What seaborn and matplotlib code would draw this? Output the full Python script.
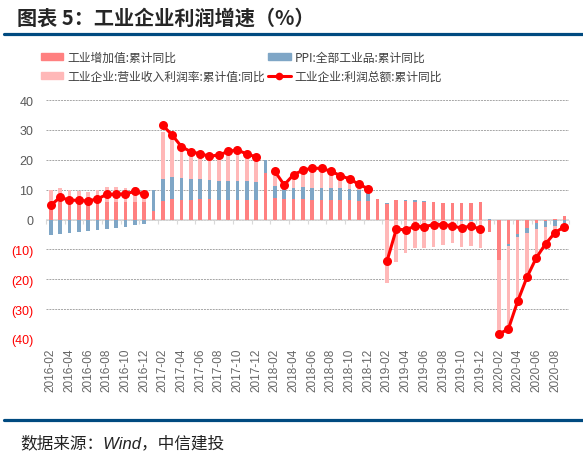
import numpy as np
import pandas as pd
import matplotlib
matplotlib.use('Agg')
import matplotlib.pyplot as plt
import seaborn as sns
from matplotlib.patches import Patch
from matplotlib.lines import Line2D

# months 2016-02 .. 2020-09
months = list(pd.period_range('2016-02', '2020-09', freq='M').strftime('%Y-%m'))

# 工业增加值:累计同比
value_added = [5.4, 5.8, 5.8, 5.9, 6.0, 6.0, 6.0, 6.0, 6.0, 6.0, 6.0,
               2.9,
               6.3, 6.8, 6.7, 6.7, 6.9, 6.8, 6.7, 6.7, 6.7, 6.6, 6.6,
               15.6,
               7.2, 6.8, 6.9, 6.9, 6.7, 6.6, 6.5, 6.4, 6.4, 6.3, 6.2,
               6.8,
               5.3, 6.5, 6.2, 6.0, 6.0, 5.8, 5.6, 5.6, 5.6, 5.6, 5.7,
               -4.3,
               -13.6, -8.3, -4.9, -2.8, -1.3, -0.4, 0.3, 1.2]

# PPI:全部工业品:累计同比
ppi = [-5.2, -4.9, -4.4, -4.1, -3.9, -3.6, -3.2, -2.8, -2.4, -2.0, -1.4,
       6.9,
       7.2, 7.3, 7.1, 6.8, 6.5, 6.4, 6.3, 6.3, 6.3, 6.2, 6.1,
       4.4,
       4.0, 3.9, 3.8, 3.9, 3.9, 4.1, 4.1, 4.0, 3.9, 3.7, 3.5,
       0.1,
       0.1, 0.2, 0.3, 0.4, 0.3, 0.2, 0.0, -0.2, -0.4, -0.5, -0.3,
       0.1,
       -0.1, -0.6, -1.1, -1.6, -1.9, -2.0, -2.1, -1.3]

# 工业企业:营业收入利润率:累计值:同比
margin = [4.6, 4.9, 4.2, 3.8, 3.3, 3.9, 5.0, 4.8, 4.7, 4.9, 3.5,
          np.nan,
          15.8, 13.0, 10.0, 9.5, 8.9, 7.9, 8.6, 9.6, 10.1, 9.3, 8.2,
          np.nan,
          3.3, 0.8, 3.5, 6.2, 6.9, 6.8, 5.8, 4.6, 3.6, 2.2, 0.9,
          np.nan,
          -21.3, -14.1, -11.3, -9.7, -9.7, -9.1, -8.6, -7.8, -8.7, -8.4, -9.4,
          np.nan,
          -24.9, -27.9, -21.4, -14.9, -9.6, -5.7, -2.3, -1.2]

# 工业企业:利润总额:累计同比
profit = [4.8, 7.4, 6.5, 6.4, 6.2, 6.9, 8.4, 8.4, 8.6, 9.4, 8.5,
          np.nan,
          31.5, 28.3, 24.4, 22.7, 22.0, 21.2, 21.6, 22.8, 23.3, 21.9, 21.0,
          np.nan,
          16.1, 11.6, 15.0, 16.5, 17.2, 17.1, 16.2, 14.7, 13.6, 11.8, 10.3,
          np.nan,
          -14.0, -3.3, -3.4, -2.3, -2.4, -1.7, -1.7, -2.1, -2.9, -2.1, -3.3,
          np.nan,
          -38.3, -36.7, -27.4, -19.3, -12.8, -8.1, -4.4, -2.4]

RED = '#FF8080'
PINK = '#FFB8B8'
BLUE = '#7FA6C6'
LINE = '#FF0000'

sns.set_theme(style='white')
plt.rcParams['font.family'] = ['Liberation Sans', 'Noto Sans CJK SC', 'DejaVu Sans']
plt.rcParams['axes.unicode_minus'] = False

df = pd.DataFrame({'month': months, 'va': value_added, 'ppi': ppi,
                   'margin': margin, 'profit': profit})
parts = df[['va', 'ppi', 'margin']].fillna(0)
pos = parts.clip(lower=0).cumsum(axis=1)
neg = parts.clip(upper=0).cumsum(axis=1)

fig = plt.figure(figsize=(5.83, 4.56), dpi=100)
ax = fig.add_axes([0.079, 0.2544, 0.897, 0.524])

# stacked columns: draw the full stack first, then overdraw lower layers
for col, color in [('margin', PINK), ('ppi', BLUE), ('va', RED)]:
    for side in (pos, neg):
        sns.barplot(x=df['month'], y=side[col], color=color, width=0.38,
                    saturation=1, errorbar=None, linewidth=0, ax=ax, zorder=3)

# profit line, broken at the January gaps
line_df = df.copy()
line_df['x'] = np.arange(len(df))
line_df['seg'] = line_df['profit'].isna().cumsum()
line_df = line_df.dropna(subset=['profit'])
sns.lineplot(data=line_df, x='x', y='profit', units='seg', estimator=None,
             color=LINE, lw=2.2, marker='o', markersize=6.5, markeredgewidth=0,
             legend=False, ax=ax, zorder=5)

ax.set_xlim(-0.5, len(months) - 0.5)
ax.set_ylim(-40, 40)
ax.set_xlabel('')
ax.set_ylabel('')

yt = np.arange(-40, 41, 10)
ax.set_yticks(yt)
ax.set_yticklabels([f'({-v})' if v < 0 else str(v) for v in yt])
for lab, v in zip(ax.get_yticklabels(), yt):
    lab.set_color('#FF0000' if v < 0 else '#595959')
ax.tick_params(axis='y', length=0, pad=9, labelsize=9)

ax.set_xticks(np.arange(0, len(months), 2))
ax.set_xticklabels(months[::2], rotation=90)
ax.tick_params(axis='x', length=0, pad=6, labelsize=8.5, labelcolor='#666666')

ax.yaxis.grid(True, color='#A6A6A6', linestyle=(0, (2, 1)), lw=0.7, zorder=0)
ax.set_axisbelow(True)
ax.axhline(0, color='#D9D9D9', lw=1.2, zorder=2)
for s in ax.spines.values():
    s.set_visible(False)

# category tick marks on the zero line
sec = ax.secondary_xaxis(0.5)
sec.set_xticks(np.arange(-0.5, len(months), 2))
sec.tick_params(axis='x', bottom=True, top=False, labelbottom=False, labeltop=False,
                direction='out', length=3, width=0.8, color='#D9D9D9')
for s in sec.spines.values():
    s.set_visible(False)

handles = [Patch(color=RED), Patch(color=PINK), Patch(color=BLUE),
           Line2D([], [], color=LINE, lw=2.2, marker='o', markersize=5.5, markeredgewidth=0)]
labels = ['工业增加值:累计同比', '工业企业:营业收入利润率:累计值:同比',
          'PPI:全部工业品:累计同比', '工业企业:利润总额:累计同比']
leg = fig.legend(handles, labels, ncol=2, loc='upper left',
                 bbox_to_anchor=(41 / 583, 1 - 52 / 456), frameon=False,
                 prop={'family': ['Noto Sans CJK SC'], 'size': 8.5},
                 handlelength=1.9, handleheight=0.5, handletextpad=0.35,
                 columnspacing=0.25, labelspacing=0.5, borderpad=0, borderaxespad=0)
for t in leg.get_texts():
    t.set_color('#404040')

fig.text(17 / 583, 1 - 18 / 456, '图表 5：工业企业利润增速（%）', fontsize=14.5,
         fontweight='bold', va='center', family=['Noto Sans CJK SC'])
fig.add_artist(Line2D([0.007, 1], [1 - 34.5 / 456] * 2, transform=fig.transFigure,
                      color='#004A80', lw=2.3))
fig.add_artist(Line2D([0.007, 1], [1 - 421 / 456] * 2, transform=fig.transFigure,
                      color='#004A80', lw=2.3))
fig.text(20 / 583, 1 - 443 / 456, '数据来源：Wind，中信建投', fontsize=12,
         style='italic', va='center', color='#222222')

fig.savefig('out.png', dpi=100)
